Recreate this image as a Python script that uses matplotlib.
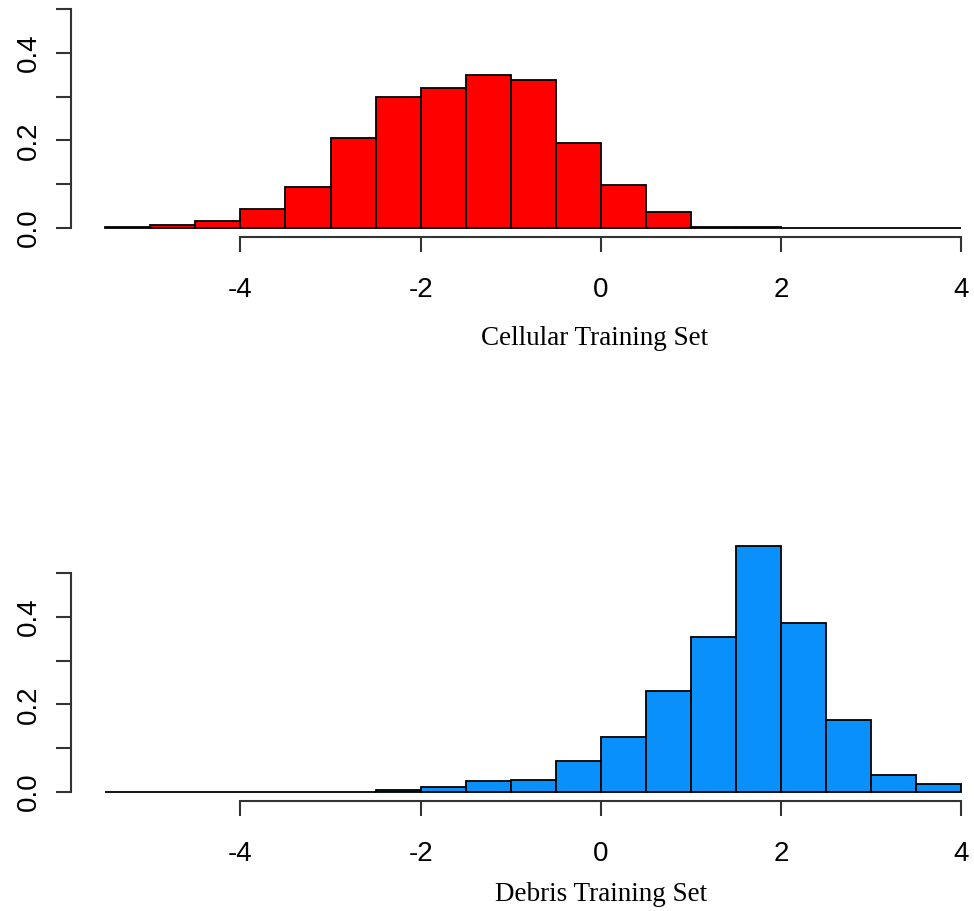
import matplotlib.pyplot as plt
import numpy as np

# bin edges shared by both histograms (width 0.5, from -5.5 to 4)
bin_left = np.arange(-5.5, 4.0, 0.5)

# densities
cellular_density = [0.002, 0.007, 0.016, 0.043, 0.093, 0.205, 0.300, 0.320,
                    0.350, 0.338, 0.194, 0.098, 0.036, 0.003, 0.002,
                    0.0, 0.0, 0.0, 0.0]
debris_density = [0.0, 0.0, 0.0, 0.0, 0.0, 0.0, 0.004, 0.012,
                  0.024, 0.028, 0.070, 0.125, 0.230, 0.354, 0.562,
                  0.386, 0.164, 0.039, 0.018]

x_ticks = [-4, -2, 0, 2, 4]
y_ticks = [0.0, 0.1, 0.2, 0.3, 0.4, 0.5]
y_labels = ['0.0', '', '0.2', '', '0.4', '']

W, H = 974, 911
fig = plt.figure(figsize=(W / 100, H / 100), dpi=100)

Y_LO, Y_HI = -0.0226, 0.587
PX_PER_UNIT = 438.0  # vertical pixels per density unit


def draw_hist(ax, density, color, label):
    ax.bar(bin_left, density, width=0.5, align='edge', color=color,
           edgecolor='black', linewidth=1.3)
    ax.set_xlim(-5.88, 4.14)
    ax.set_ylim(Y_LO, Y_HI)
    for s in ['top', 'right']:
        ax.spines[s].set_visible(False)
    ax.spines['left'].set_bounds(0, 0.5)
    ax.spines['bottom'].set_bounds(-4, 4)
    ax.spines['bottom'].set_position(('data', -0.02))
    for s in ['left', 'bottom']:
        ax.spines[s].set_linewidth(1.5)
        ax.spines[s].set_color('#333333')
    ax.set_xticks(x_ticks)
    ax.set_xticklabels([str(t) for t in x_ticks], family='Liberation Sans',
                       fontsize=20)
    ax.set_yticks(y_ticks)
    ax.set_yticklabels(y_labels, family='Liberation Sans', fontsize=20,
                       rotation=90, va='center')
    ax.tick_params(axis='both', direction='out', length=11, width=1.5,
                   color='#333333')
    ax.tick_params(axis='x', pad=18)
    ax.tick_params(axis='y', pad=10)
    ax.set_xlabel(label, family='Liberation Serif', fontsize=19.5)


def panel_rect(zero_px):
    # place axes so that density 0 sits at pixel row zero_px
    bottom_px = zero_px - Y_LO * PX_PER_UNIT
    top_px = zero_px - Y_HI * PX_PER_UNIT
    return [71 / W, 1 - bottom_px / H, 1 - 71 / W, (bottom_px - top_px) / H]


ax1 = fig.add_axes(panel_rect(228))
draw_hist(ax1, cellular_density, '#FF0000', 'Cellular Training Set')
ax1.xaxis.set_label_coords((595 - 71) / (W - 71), -0.33)

ax2 = fig.add_axes(panel_rect(792))
draw_hist(ax2, debris_density, '#0A90FA', 'Debris Training Set')
ax2.xaxis.set_label_coords((601 - 71) / (W - 71), -0.3)

fig.savefig('out.png', dpi=100)
